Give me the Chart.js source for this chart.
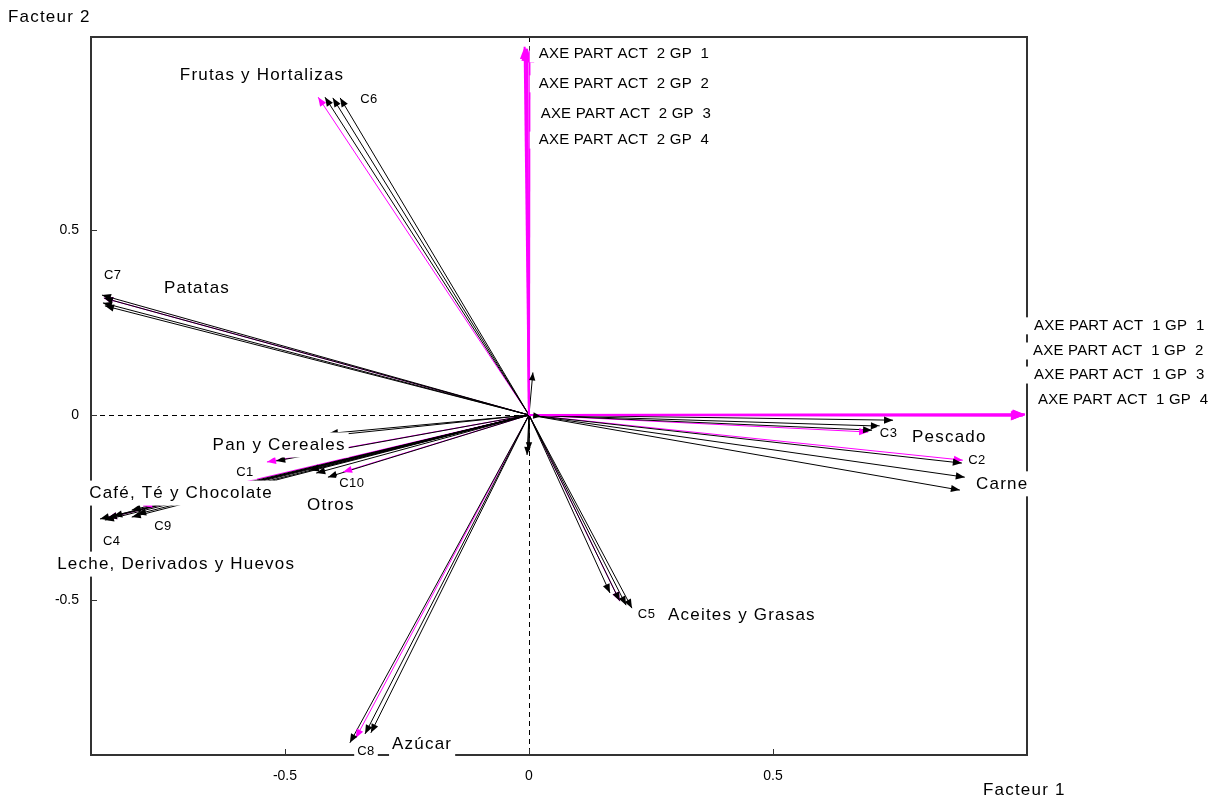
<!DOCTYPE html>
<html>
<head>
<meta charset="utf-8">
<script src="https://cdn.jsdelivr.net/npm/chart.js@4.4.1/dist/chart.umd.min.js"></script>
<style>
  html, body { margin: 0; padding: 0; background: #fff; }
  canvas { display: block; }
</style>
</head>
<body>
<canvas id="biplotChart" width="1226" height="802"></canvas>
<script>
// variables (C1..C10) and their coordinates on Facteur 1 / Facteur 2, one pair of arrays per group
const codes = ['C1', 'C2', 'C3', 'C4', 'C5', 'C6', 'C7', 'C8', 'C9', 'C10'];
const variables = ['Pan y Cereales', 'Carne', 'Pescado', 'Leche, Derivados y Huevos', 'Aceites y Grasas',
  'Frutas y Hortalizas', 'Patatas', 'Azúcar', 'Café, Té y Chocolate', 'Otros'];

const f1GP1 = [-0.537, 0.889, 0.695, -0.863, 0.186, -0.432, -0.871, -0.355, -0.791, -0.381];
const f2GP1 = [-0.127, -0.122, -0.046, -0.278, -0.503, 0.859, 0.316, -0.873, -0.246, -0.154];
const f1GP2 = [-0.518, 0.893, 0.746, -0.863, 0.186, -0.418, -0.871, -0.367, -0.814, -0.412];
const f2GP2 = [-0.124, -0.168, -0.014, -0.278, -0.503, 0.859, 0.316, -0.886, -0.257, -0.168];
const f1GP3 = [-0.440, 0.883, 0.719, -0.852, 0.199, -0.402, -0.873, -0.336, -0.814, -0.449];
const f2GP3 = [-0.060, -0.203, -0.030, -0.273, -0.514, 0.857, 0.303, -0.862, -0.276, -0.149];
const f1GP4 = [-0.410, 0.887, 0.703, -0.879, 0.211, -0.387, -0.869, -0.324, -0.803, -0.436];
const f2GP4 = [-0.050, -0.130, -0.041, -0.281, -0.522, 0.857, 0.295, -0.859, -0.268, -0.157];
const extraF1 = [null, null, null, -0.869, 0.166, null, -0.875, null, null, null];
const extraF2 = [null, null, null, -0.284, -0.481, null, 0.324, null, null, null];

// partial axes of each group
const axe1F1 = [1.016, 1.014, 1.012, 1.016];
const axe1F2 = [0.002, 0.000, -0.002, 0.001];
const axe2F1 = [-0.009, -0.004, 0.001, -0.006];
const axe2F2 = [0.995, 0.990, 0.985, 0.990];

// short arrows near the origin
const minorF1 = [0.008, -0.004, 0.000, 0.025];
const minorF2 = [0.115, -0.108, -0.095, -0.004];

const xTicks = [-0.5, 0, 0.5];
const yTicks = [-0.5, 0, 0.5];

// text labels, anchored in plot units
const labelText = ['Frutas y Hortalizas', 'C6',
  'AXE PART ACT  2 GP  1', 'AXE PART ACT  2 GP  2', 'AXE PART ACT  2 GP  3', 'AXE PART ACT  2 GP  4',
  'C7', 'Patatas',
  'AXE PART ACT  1 GP  1', 'AXE PART ACT  1 GP  2', 'AXE PART ACT  1 GP  3', 'AXE PART ACT  1 GP  4',
  'C3', 'Pescado', 'C2', 'Carne', 'Pan y Cereales', 'C1', 'C10', 'Otros',
  'Café, Té y Chocolate', 'C9', 'C4', 'Leche, Derivados y Huevos', 'C5', 'Aceites y Grasas', 'C8', 'Azúcar'];
const labelF1 = [-0.547, -0.346, 0.020, 0.020, 0.024, 0.020, -0.871, -0.748, 1.035, 1.033, 1.035, 1.043,
  0.719, 0.785, 0.900, 0.916, -0.512, -0.582, -0.363, -0.406, -0.713, -0.750, -0.855, -0.723, 0.223, 0.285, -0.334, -0.219];
const labelF2 = [0.919, 0.854, 0.976, 0.895, 0.814, 0.743, 0.378, 0.343, 0.241, 0.173, 0.108, 0.041,
  -0.051, -0.059, -0.124, -0.186, -0.081, -0.154, -0.186, -0.243, -0.211, -0.300, -0.341, -0.403, -0.538, -0.541, -0.909, -0.890];
const labelKind = ['name', 'code', 'axe', 'axe', 'axe', 'axe', 'code', 'name', 'axe', 'axe', 'axe', 'axe',
  'code', 'name', 'code', 'name', 'name', 'code', 'code', 'name', 'name', 'code', 'code', 'name', 'code', 'name', 'code', 'name'];
const labelAlign = ['center', 'left', 'left', 'left', 'left', 'left', 'left', 'left', 'left', 'left', 'left', 'left',
  'left', 'left', 'left', 'left', 'center', 'center', 'center', 'center', 'center', 'center', 'center', 'center',
  'left', 'left', 'center', 'center'];

const FONT = "'Liberation Sans', Arial, sans-serif";
const MAGENTA = '#ff00ff';
const kindStyle = {
  name: { size: 17, spacing: '1.2px', padX: 3, padY: 4 },
  code: { size: 13, spacing: '0.5px', padX: 3, padY: 1 },
  axe: { size: 15, spacing: '0.2px', padX: 9, padY: 1 }
};

function arrow(x, y, color, width, head) {
  return {
    data: [{ x: 0, y: 0 }, { x: x, y: y }],
    showLine: true,
    borderColor: color,
    borderWidth: width,
    pointRadius: 0,
    head: head
  };
}

// dataset 0 is drawn on top, so the axes come first and the magenta group last
const datasets = [];
axe1F1.forEach((v, i) => datasets.push(arrow(v, axe1F2[i], MAGENTA, 2, 12)));
axe2F1.forEach((v, i) => datasets.push(arrow(v, axe2F2[i], MAGENTA, 2, 12)));
minorF1.forEach((v, i) => datasets.push(arrow(v, minorF2[i], '#000', 1, 8)));
[[f1GP2, f2GP2], [f1GP3, f2GP3], [f1GP4, f2GP4], [extraF1, extraF2]].forEach(([fx, fy]) => {
  fx.forEach((v, i) => { if (v !== null) datasets.push(arrow(v, fy[i], '#000', 1, 9)); });
});
f1GP1.forEach((v, i) => datasets.push(arrow(v, f2GP1[i], MAGENTA, 1, 9)));

const framePlugin = {
  id: 'frame',
  beforeDatasetsDraw(chart) {
    const { ctx, chartArea: a, scales: { x, y } } = chart;
    ctx.save();
    ctx.strokeStyle = '#000';
    ctx.lineWidth = 1;
    ctx.setLineDash([5, 4]);
    const x0 = Math.round(x.getPixelForValue(0)) + 0.5;
    const y0 = Math.round(y.getPixelForValue(0)) + 0.5;
    ctx.beginPath();
    ctx.moveTo(a.left, y0); ctx.lineTo(a.right, y0);
    ctx.moveTo(x0, a.top); ctx.lineTo(x0, a.bottom);
    ctx.stroke();
    ctx.setLineDash([]);
    ctx.strokeStyle = '#333';
    ctx.lineWidth = 2;
    ctx.strokeRect(a.left, a.top, a.right - a.left, a.bottom - a.top);
    ctx.lineWidth = 1;
    ctx.beginPath();
    xTicks.forEach(v => {
      const px = Math.round(x.getPixelForValue(v)) + 0.5;
      ctx.moveTo(px, a.bottom); ctx.lineTo(px, a.bottom - 6);
    });
    yTicks.forEach(v => {
      const py = Math.round(y.getPixelForValue(v)) + 0.5;
      ctx.moveTo(a.left, py); ctx.lineTo(a.left + 6, py);
    });
    ctx.stroke();
    ctx.restore();
  },
  afterDatasetsDraw(chart) {
    const { ctx, chartArea: a, scales: { x, y } } = chart;
    ctx.save();
    // arrow heads, same order as the lines
    for (let i = chart.data.datasets.length - 1; i >= 0; i--) {
      const ds = chart.data.datasets[i];
      const pts = chart.getDatasetMeta(i).data;
      const p0 = pts[0], p1 = pts[1];
      const ang = Math.atan2(p1.y - p0.y, p1.x - p0.x);
      const L = ds.head, W = ds.head * 0.4;
      const bx = p1.x - L * Math.cos(ang), by = p1.y - L * Math.sin(ang);
      ctx.fillStyle = ds.borderColor;
      ctx.beginPath();
      ctx.moveTo(p1.x, p1.y);
      ctx.lineTo(bx - W * Math.sin(ang), by + W * Math.cos(ang));
      ctx.lineTo(bx + W * Math.sin(ang), by - W * Math.cos(ang));
      ctx.closePath();
      ctx.fill();
    }
    // labels with white boxes
    ctx.textBaseline = 'middle';
    labelText.forEach((t, i) => {
      const st = kindStyle[labelKind[i]];
      ctx.font = st.size + 'px ' + FONT;
      ctx.letterSpacing = st.spacing;
      const w = ctx.measureText(t).width;
      const px = x.getPixelForValue(labelF1[i]);
      const py = y.getPixelForValue(labelF2[i]);
      const left = labelAlign[i] === 'center' ? px - w / 2 : px;
      ctx.fillStyle = '#fff';
      ctx.fillRect(left - st.padX, py - st.size / 2 - st.padY, w + st.padX + 3, st.size + 2 * st.padY);
      ctx.fillStyle = '#000';
      ctx.textAlign = 'left';
      ctx.fillText(t, left, py);
    });
    // axis titles
    ctx.font = '17px ' + FONT;
    ctx.letterSpacing = '1.2px';
    ctx.fillText('Facteur 2', 8, a.top - 20);
    ctx.fillText('Facteur 1', a.right - 44, a.bottom + 35);
    ctx.restore();
  }
};

new Chart(document.getElementById('biplotChart'), {
  type: 'scatter',
  data: { datasets: datasets },
  options: {
    responsive: false,
    devicePixelRatio: 1,
    animation: false,
    layout: { padding: { top: 37, right: 199, left: 0, bottom: 0 } },
    plugins: { legend: { display: false }, tooltip: { enabled: false } },
    scales: {
      x: {
        type: 'linear',
        min: -0.8975,
        max: 1.0205,
        afterBuildTicks: s => { s.ticks = xTicks.map(v => ({ value: v })); },
        afterFit: s => { s.height = 47; },
        grid: { display: false, drawTicks: false },
        border: { display: false },
        ticks: { padding: 13, color: '#000', font: { family: FONT, size: 14 } }
      },
      y: {
        type: 'linear',
        min: -0.9189,
        max: 1.0216,
        afterBuildTicks: s => { s.ticks = yTicks.map(v => ({ value: v })); },
        afterFit: s => { s.width = 91; },
        grid: { display: false, drawTicks: false },
        border: { display: false },
        ticks: { padding: 12, color: '#000', font: { family: FONT, size: 14 } }
      }
    }
  },
  plugins: [framePlugin]
});
</script>
</body>
</html>
